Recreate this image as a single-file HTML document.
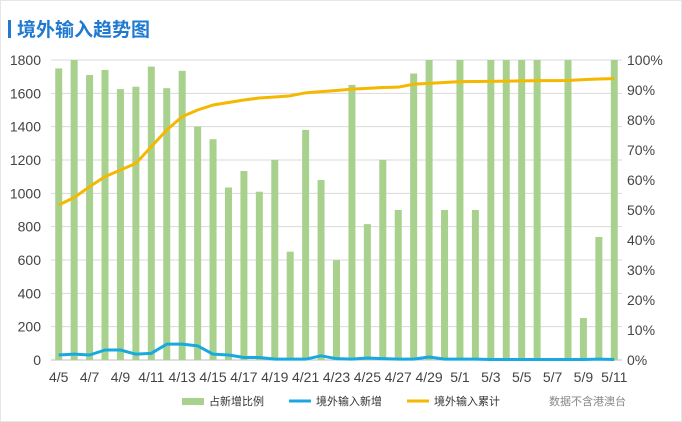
<!DOCTYPE html>
<html><head><meta charset="utf-8"><style>
body{margin:0;background:#fff;}
svg{display:block;font-family:"Liberation Sans","Noto Sans CJK SC",sans-serif;}
</style></head><body>
<svg id="c" width="682" height="422" viewBox="0 0 682 422">
<rect x="0.5" y="0.5" width="681" height="421" fill="#fff" stroke="#e6e6e6"/>
<rect x="8" y="20" width="3" height="18" fill="#1f7ad0"/>
<text x="17" y="36" font-size="19" font-weight="bold" fill="#1f7ad0">境外输入趋势图</text>
<g id="grid"></g><g id="bars"></g><g id="lines"></g><g id="axes"></g>
<g>
<rect x="182" y="398" width="22" height="7" fill="#a9d18e"/>
<text x="209" y="405" font-size="11" fill="#333">占新增比例</text>
<line x1="289" y1="401" x2="311" y2="401" stroke="#19a9e0" stroke-width="3"/>
<text x="316" y="405" font-size="11" fill="#333">境外输入新增</text>
<line x1="407" y1="401" x2="429" y2="401" stroke="#f5b800" stroke-width="3"/>
<text x="434" y="405" font-size="11" fill="#333">境外输入累计</text>
<text x="549" y="405" font-size="11" fill="#888">数据不含港澳台</text>
</g>
</svg>
<script>
const categories=["4/5","4/6","4/7","4/8","4/9","4/10","4/11","4/12","4/13","4/14","4/15","4/16","4/17","4/18","4/19","4/20","4/21","4/22","4/23","4/24","4/25","4/26","4/27","4/28","4/29","4/30","5/1","5/2","5/3","5/4","5/5","5/6","5/7","5/8","5/9","5/10","5/11"];
const ratioPct=[97.2,100,95,96.7,90.3,91.1,97.8,90.6,96.4,77.8,73.6,57.5,63,56.1,66.7,36.1,76.7,60,33.3,91.7,45.3,66.7,50,95.5,100,50,100,50,100,100,100,100,0,100,14,41,100];
const newCases=[30,35,30,60,60,35,40,95,95,85,35,30,15,15,5,5,5,25,8,5,12,8,5,5,18,5,5,5,3,3,3,3,3,3,3,5,3];
const cumulative=[930,975,1040,1100,1140,1180,1280,1380,1460,1500,1530,1545,1560,1572,1578,1585,1603,1610,1617,1625,1630,1635,1637,1655,1660,1665,1670,1671,1672,1673,1675,1676,1676,1677,1682,1686,1688];
const leftTicks=[0,200,400,600,800,1000,1200,1400,1600,1800];
const rightTicks=[0,10,20,30,40,50,60,70,80,90,100];
const NS="http://www.w3.org/2000/svg";
const X0=51,X1=622,Y0=360,Y1=60;
const band=(X1-X0)/categories.length;
const xc=i=>X0+band*(i+0.5);
const yL=v=>Y0-(v/1800)*(Y0-Y1);
const yR=v=>Y0-(v/100)*(Y0-Y1);
function mk(t,a,p){const e=document.createElementNS(NS,t);for(const k in a)e.setAttribute(k,a[k]);document.getElementById(p).appendChild(e);return e;}
leftTicks.forEach(v=>{
 const l=mk("line",{x1:X0,x2:X1,y1:yL(v),y2:yL(v),stroke:v===0?"#bfbfbf":"#d9d9d9","stroke-width":1},"grid");
 
 
 const t=mk("text",{x:41,y:yL(v)+5,"text-anchor":"end","font-size":14,fill:"#444"},"axes");t.textContent=v;
 
 
});
rightTicks.forEach(v=>{
 const t=mk("text",{x:627,y:yR(v)+5,"font-size":14,fill:"#444"},"axes");t.textContent=v+"%";
 
 
});
categories.forEach((c,i)=>{
 const b=mk("rect",{x:xc(i)-3.5,y:yR(ratioPct[i]),width:7,height:Y0-yR(ratioPct[i]),fill:"#a9d18e"},"bars");
 
 
 if(i%2===0){const t=mk("text",{x:xc(i),y:382,"text-anchor":"middle","font-size":14,fill:"#444"},"axes");t.textContent=c;
 
 }
});
const p1=mk("polyline",{points:newCases.map((v,i)=>xc(i)+","+yL(v)).join(" "),fill:"none",stroke:"#19a9e0","stroke-width":3,"stroke-linejoin":"round"},"lines");


const p2=mk("polyline",{points:cumulative.map((v,i)=>xc(i)+","+yL(v)).join(" "),fill:"none",stroke:"#f5b800","stroke-width":3,"stroke-linejoin":"round"},"lines");


</script>
</body></html>
